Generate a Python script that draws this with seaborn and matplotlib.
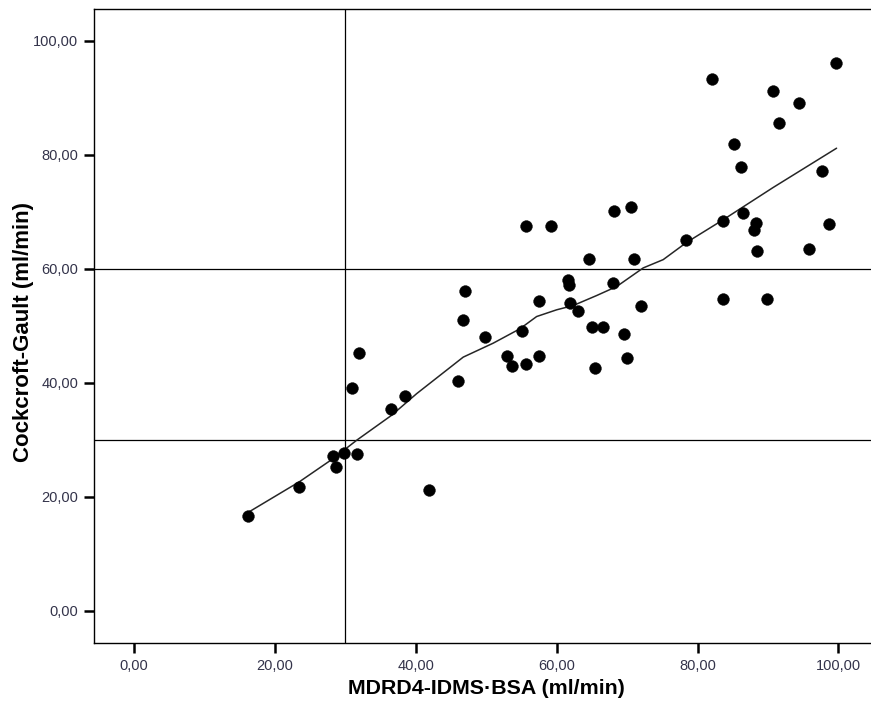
import numpy as np
import pandas as pd
import matplotlib
matplotlib.use("Agg")
import matplotlib.pyplot as plt
import seaborn as sns

# Scatter data
mdrd = [16.23, 23.47, 28.30, 28.64, 29.81, 31.66, 30.91, 31.90, 36.48, 38.51,
        41.83, 46.03, 46.70, 46.98, 49.87, 52.99, 53.61, 55.03, 55.60, 55.64,
        57.53, 57.53, 59.19, 61.56, 61.70, 61.93, 63.02, 64.62, 64.96, 65.39,
        66.52, 67.99, 68.13, 69.55, 70.02, 70.58, 71.01, 71.96, 78.35, 81.99,
        83.67, 83.64, 85.20, 86.15, 86.48, 88.04, 88.28, 88.46, 89.80, 90.65,
        91.58, 94.42, 95.84, 97.69, 98.64, 99.63]
cg = [16.70, 21.77, 27.20, 25.28, 27.73, 27.55, 39.10, 45.18, 35.50, 37.65,
      21.20, 40.28, 51.08, 56.21, 48.12, 44.65, 43.03, 49.15, 43.25, 67.58,
      54.45, 44.70, 67.58, 58.13, 57.13, 54.05, 52.70, 61.68, 49.85, 42.67,
      49.78, 57.55, 70.21, 48.50, 44.42, 70.79, 61.68, 53.53, 65.10, 93.37,
      68.46, 54.67, 81.99, 77.86, 69.74, 66.83, 67.99, 63.08, 54.68, 91.27,
      85.66, 89.16, 63.50, 77.16, 67.88, 96.17]

# Loess fit line
fit_x = [16.23, 23.47, 28.30, 31.62, 36.58, 40.13, 46.74, 51.00, 54.79, 57.16,
         60.00, 62.35, 65.67, 68.51, 72.29, 75.12, 78.45, 83.64, 90.73, 99.73]
fit_y = [17.30, 22.65, 26.75, 29.95, 34.33, 38.12, 44.53, 46.98, 49.50, 51.65,
         52.83, 53.58, 55.33, 56.91, 60.18, 61.63, 64.66, 68.63, 74.29, 81.18]

ref_x = [30]
ref_y = [30, 60]
ticks = [0, 20, 40, 60, 80, 100]
tick_labels = ["0,00", "20,00", "40,00", "60,00", "80,00", "100,00"]

df = pd.DataFrame({"MDRD": mdrd, "CG": cg})
fit = pd.DataFrame({"x": fit_x, "y": fit_y})

sns.set_theme(style="white")
plt.rcParams["font.family"] = ["Liberation Sans", "DejaVu Sans"]

W, H = 871, 705
fig = plt.figure(figsize=(W / 100, H / 100), dpi=100)
ax_l, ax_r, ax_t, ax_b = 94.3, 873.0, 9.0, 643.0
ax = fig.add_axes([ax_l / W, 1 - ax_b / H, (ax_r - ax_l) / W, (ax_b - ax_t) / H])

for v in ref_x:
    ax.axvline(v, color="black", lw=0.9, zorder=1)
for v in ref_y:
    ax.axhline(v, color="black", lw=0.9, zorder=1)

sns.lineplot(data=fit, x="x", y="y", ax=ax, color="#262626", lw=1.1,
             sort=False, estimator=None, zorder=2)
sns.scatterplot(data=df, x="MDRD", y="CG", ax=ax, color="black", s=72,
                edgecolor="black", linewidth=0.3, zorder=3)

ax.set_xlim(-5.62, 104.9)
ax.set_ylim(-5.62, 105.6)
ax.set_xticks(ticks)
ax.set_xticklabels(tick_labels)
ax.set_yticks(ticks)
ax.set_yticklabels(tick_labels)

tick_color = "#33334a"
ax.tick_params(axis="both", which="major", direction="out", length=7.5,
               width=1.8, color="black", labelsize=10.5, labelcolor=tick_color,
               pad=4, bottom=True, left=True)
for sp in ax.spines.values():
    sp.set_color("black")
    sp.set_linewidth(1.0)
ax.spines["right"].set_visible(False)

ax.set_xlabel("MDRD4-IDMS·BSA (ml/min)", fontsize=15.4, fontweight="bold",
              color="black")
ax.set_ylabel("Cockcroft-Gault (ml/min)", fontsize=16.0, fontweight="bold",
              color="black")
axw = ax_r - ax_l
axh = ax_b - ax_t
ax.xaxis.set_label_coords((486 - ax_l) / axw, -(679 - ax_b) / axh)
ax.yaxis.set_label_coords(-(ax_l - 34) / axw, (643 - 332) / axh)

fig.savefig("out.png", dpi=100)
